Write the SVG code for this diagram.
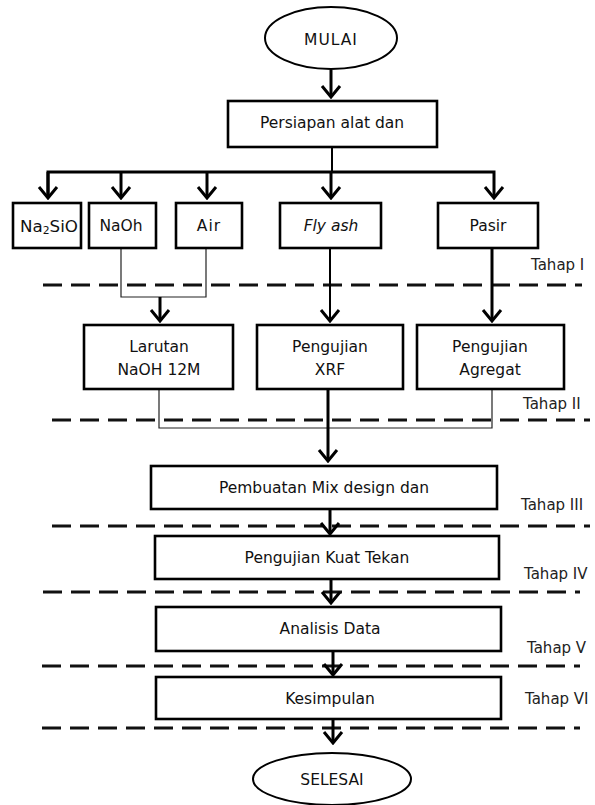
<svg xmlns="http://www.w3.org/2000/svg" width="595" height="805" viewBox="0 0 595 805">
<defs>
<marker id="ah" viewBox="-14 -12 16 24" markerUnits="userSpaceOnUse" markerWidth="16" markerHeight="24" refX="0" refY="0" orient="auto">
<path d="M-11,-9 L0,0 L-11,9" fill="none" stroke="#000" stroke-width="3" stroke-linejoin="miter"/>
</marker>
</defs>
<style>
.box{fill:#fff;stroke:#000;stroke-width:2.6}
.t{font-family:"DejaVu Sans","Liberation Sans",sans-serif;font-size:15.5px;fill:#111;text-anchor:middle;dominant-baseline:central}
.tah{font-family:"DejaVu Sans","Liberation Sans",sans-serif;font-size:15px;fill:#222;dominant-baseline:central}
.dash{stroke:#111;stroke-width:3;stroke-dasharray:19 9;fill:none}
.thick{stroke:#000;stroke-width:3;fill:none}
.mid{stroke:#000;stroke-width:2;fill:none}
.thin{stroke:#222;stroke-width:1.2;fill:none}
</style>
<rect width="595" height="805" fill="#fff"/>

<g id="stages">
<line class="dash" x1="43" y1="285" x2="582" y2="285"/>
<line class="dash" x1="52" y1="420" x2="590" y2="420"/>
<line class="dash" x1="52" y1="526" x2="590" y2="526"/>
<line class="dash" x1="43" y1="592" x2="580" y2="592"/>
<line class="dash" x1="42" y1="666" x2="580" y2="666"/>
<line class="dash" x1="42" y1="728" x2="580" y2="728"/>
<text class="tah" x="531" y="265">Tahap I</text>
<text class="tah" x="523" y="404">Tahap II</text>
<text class="tah" x="521" y="505">Tahap III</text>
<text class="tah" x="524" y="574">Tahap IV</text>
<text class="tah" x="527" y="648">Tahap V</text>
<text class="tah" x="525" y="699">Tahap VI</text>
</g>

<g id="connectors">
<line class="thick" x1="331" y1="70" x2="331" y2="97" marker-end="url(#ah)"/>
<line class="mid" x1="332" y1="147" x2="332" y2="172"/>
<polyline class="thick" points="48,198 48,172 494,172 494,198" marker-end="url(#ah)"/>
<line class="thick" x1="48" y1="172" x2="48" y2="198" marker-end="url(#ah)"/>
<line class="thick" x1="121" y1="172" x2="121" y2="198" marker-end="url(#ah)"/>
<line class="thick" x1="207" y1="172" x2="207" y2="198" marker-end="url(#ah)"/>
<line class="thick" x1="331" y1="172" x2="331" y2="198" marker-end="url(#ah)"/>
<polyline class="thin" points="121,249 121,297 206,297 206,249"/>
<line class="thick" x1="160" y1="297" x2="160" y2="321" marker-end="url(#ah)"/>
<line class="mid" x1="330" y1="249" x2="330" y2="321" marker-end="url(#ah)"/>
<line class="thick" x1="492" y1="249" x2="492" y2="321" marker-end="url(#ah)"/>
<polyline class="thin" points="159,389 159,428 492,428 492,389"/>
<line class="thick" x1="328" y1="389" x2="328" y2="461" marker-end="url(#ah)"/>
<line class="thick" x1="330" y1="509" x2="330" y2="534" marker-end="url(#ah)"/>
<line class="thick" x1="331" y1="579" x2="331" y2="603" marker-end="url(#ah)"/>
<line class="thick" x1="333" y1="651" x2="333" y2="675" marker-end="url(#ah)"/>
<line class="thick" x1="333" y1="719" x2="333" y2="743" marker-end="url(#ah)"/>
</g>

<g id="mulai">
<ellipse cx="331" cy="38" rx="66" ry="31" fill="#fff" stroke="#000" stroke-width="2"/>
<text class="t" x="331" y="40" letter-spacing="1">MULAI</text>
</g>
<g id="persiapan">
<rect class="box" x="228" y="101" width="209" height="46"/>
<text class="t" x="332" y="123">Persiapan alat dan</text>
</g>
<g id="na2sio">
<rect class="box" x="13" y="203" width="68" height="45"/>
<text class="t" x="49" y="227" textLength="58" lengthAdjust="spacingAndGlyphs">Na<tspan font-size="10" dy="3">2</tspan><tspan dy="-3">SiO</tspan></text>
</g>
<g id="naoh">
<rect class="box" x="89" y="203" width="67" height="45"/>
<text class="t" x="121" y="226">NaOh</text>
</g>
<g id="air">
<rect class="box" x="176" y="203" width="66" height="45"/>
<text class="t" x="209" y="226" letter-spacing="1">Air</text>
</g>
<g id="flyash">
<rect class="box" x="280" y="203" width="101" height="45"/>
<text class="t" x="331" y="226" font-style="italic">Fly ash</text>
</g>
<g id="pasir">
<rect class="box" x="438" y="203" width="100" height="45"/>
<text class="t" x="488" y="226">Pasir</text>
</g>
<g id="larutan">
<rect class="box" x="84" y="325" width="149" height="64"/>
<text class="t" x="159" y="347">Larutan</text>
<text class="t" x="159" y="370">NaOH 12M</text>
</g>
<g id="xrf">
<rect class="box" x="257" y="325" width="146" height="64"/>
<text class="t" x="330" y="347">Pengujian</text>
<text class="t" x="330" y="370">XRF</text>
</g>
<g id="agregat">
<rect class="box" x="417" y="325" width="147" height="64"/>
<text class="t" x="490" y="347">Pengujian</text>
<text class="t" x="490" y="370">Agregat</text>
</g>
<g id="pembuatan">
<rect class="box" x="151" y="466" width="346" height="43"/>
<text class="t" x="324" y="488">Pembuatan Mix design dan</text>
</g>
<g id="kuattekan">
<rect class="box" x="155" y="536" width="344" height="43"/>
<text class="t" x="327" y="558">Pengujian Kuat Tekan</text>
</g>
<g id="analisis">
<rect class="box" x="156" y="607" width="345" height="44"/>
<text class="t" x="330" y="629">Analisis Data</text>
</g>
<g id="kesimpulan">
<rect class="box" x="156" y="677" width="345" height="42"/>
<text class="t" x="330" y="699">Kesimpulan</text>
</g>
<g id="selesai">
<ellipse cx="332" cy="779" rx="79" ry="26" fill="#fff" stroke="#000" stroke-width="2"/>
<text class="t" x="332" y="780">SELESAI</text>
</g>
</svg>
